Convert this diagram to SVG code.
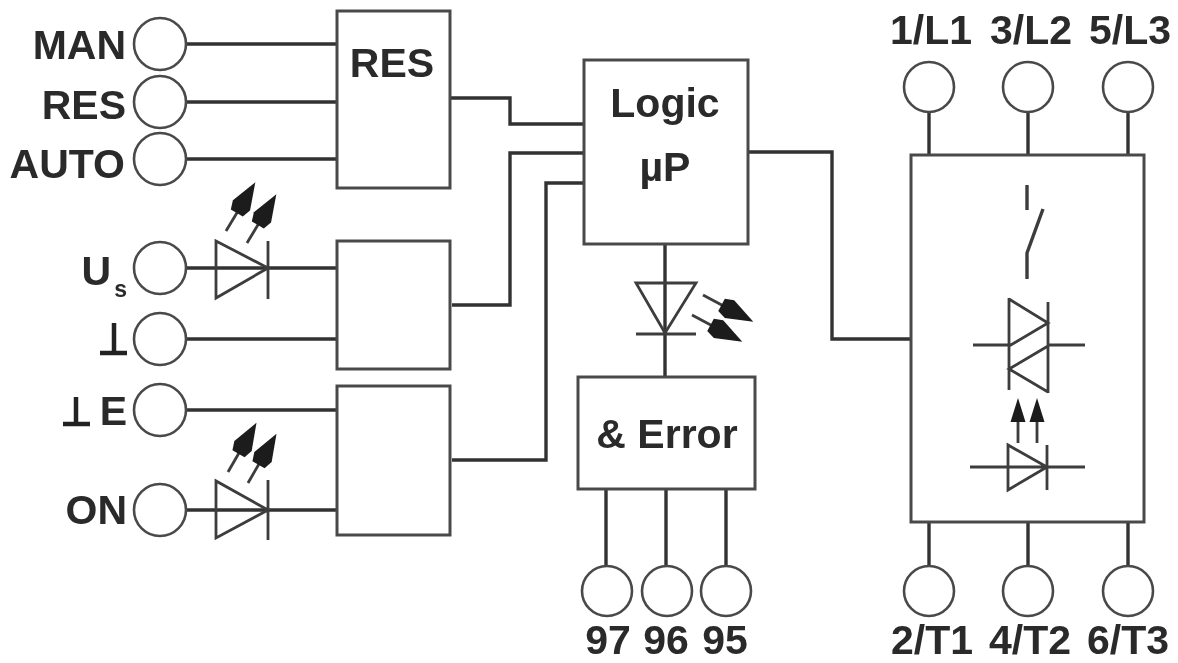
<svg xmlns="http://www.w3.org/2000/svg" width="1178" height="663" viewBox="0 0 1178 663">
<style>
text{font-family:"Liberation Sans",Arial,sans-serif;font-weight:700;font-size:41px;fill:#2a2a2a}
.e{text-anchor:end}.m{text-anchor:middle}
.b,.t{fill:#fff;stroke:#4a4a4a;stroke-width:3}
.t{stroke-width:2.600}
.w{fill:none;stroke:#333;stroke-width:3.400}
.g{fill:none;stroke:#222;stroke-width:4.500}
.s{fill:none;stroke:#3c3c3c;stroke-width:2.800}
.a{fill:#1c1c1c;stroke:none}
</style>
<defs>
<filter id="soft" x="0" y="0" width="100%" height="100%"><feGaussianBlur stdDeviation="0.5"/></filter>
<g id="up"><path class="s" d="M0 0L0 -26"/><path class="a" d="M0 -57L10 -30L7 -21L-7 -21L-10 -30Z"/></g>
<g id="up2"><path class="s" d="M0 0L0 -22"/><path class="a" d="M0 -45L7.500 -21L-7.500 -21Z"/></g>
</defs>
<rect width="1178" height="663" fill="#fff"/>
<g filter="url(#soft)">
<g id="connectors">
<path class="w" d="M186 44H337M186 102H337M186 159H337M186 268H337M186 339H337M186 410H337M186 510H337"/>
<path class="w" d="M450 98H510V124H584M452 305H510V153H584M452 460H546V183H584M749 152H832V339H911"/>
<path class="w" d="M665 245V377M606 489V566M666 489V566M726 489V566"/>
<path class="w" d="M929 112V155M1028 112V155M1128 112V155M929 522V566M1028 522V566M1128 522V566"/>
</g>
<g id="res"><rect class="b" x="337" y="11" width="113" height="177"/><text class="m" x="392" y="77">RES</text></g>
<g id="box-us"><rect class="b" x="337" y="241" width="113" height="128"/></g>
<g id="box-e"><rect class="b" x="337" y="386" width="113" height="149"/></g>
<g id="logic"><rect class="b" x="584" y="60" width="164" height="184"/><text class="m" x="665" y="117">Logic</text><text class="m" x="665" y="181">µP</text></g>
<g id="error"><rect class="b" x="578" y="377" width="177" height="112"/><text class="m" x="667" y="448">&amp; Error</text></g>
<g id="switch"><rect class="b" x="911" y="155" width="233" height="367"/>
<path class="s" d="M1027 185V210M1043 209L1027 253V279" style="stroke-width:3.400"/>
<path class="s" d="M973 345H1009M1048 345H1085M1009 298V390M1048 302V393M1009 299L1048 323L1009 346M1048 346L1009 369L1048 392"/>
<use href="#up2" x="1018" y="443"/><use href="#up2" x="1037" y="443"/>
<path class="s" d="M970 467H1085M1008 445V490L1047 467ZM1047 445V490"/></g>
<g id="led-logic"><path class="s" d="M636 283H696L665 333ZM636 334H696"/>
<use href="#up" transform="translate(703 295) rotate(118)"/><use href="#up" transform="translate(692 315) rotate(118)"/></g>
<g id="led-us"><path class="s" d="M216 241V298L268 268ZM268 241V299"/>
<use href="#up" transform="translate(226 231) rotate(31)"/><use href="#up" transform="translate(247 243) rotate(31)"/></g>
<g id="led-on"><path class="s" d="M216 481V538L268 510ZM268 480V540"/>
<use href="#up" transform="translate(228 472) rotate(30)"/><use href="#up" transform="translate(248 483) rotate(30)"/></g>
<g id="t-man"><circle class="t" cx="160" cy="44" r="26"/><text class="e" x="126" y="59">MAN</text></g>
<g id="t-res"><circle class="t" cx="160" cy="102" r="26"/><text class="e" x="126" y="119">RES</text></g>
<g id="t-auto"><circle class="t" cx="160" cy="159" r="26"/><text class="e" x="125" y="178">AUTO</text></g>
<g id="t-us"><circle class="t" cx="160" cy="268" r="26"/><text class="e" x="111" y="285">U</text><text class="e" x="127" y="297" style="font-size:23px">s</text></g>
<g id="t-gnd"><circle class="t" cx="160" cy="339" r="26"/><path class="g" d="M114 323V353M100 353H127"/></g>
<g id="t-pe"><circle class="t" cx="160" cy="410" r="26"/><path class="g" d="M76 397V424M63 424H90"/><text class="e" x="127" y="425">E</text></g>
<g id="t-on"><circle class="t" cx="160" cy="510" r="26"/><text class="e" x="127" y="524">ON</text></g>
<g id="t-97"><circle class="t" cx="607" cy="591" r="25"/><text class="m" x="608" y="654">97</text></g>
<g id="t-96"><circle class="t" cx="667" cy="591" r="25"/><text class="m" x="666" y="654">96</text></g>
<g id="t-95"><circle class="t" cx="726" cy="591" r="25"/><text class="m" x="725" y="654">95</text></g>
<g id="t-l1"><circle class="t" cx="929" cy="87" r="25"/><text class="m" x="931" y="44">1/L1</text></g>
<g id="t-l2"><circle class="t" cx="1028" cy="87" r="25"/><text class="m" x="1031" y="44">3/L2</text></g>
<g id="t-l3"><circle class="t" cx="1128" cy="87" r="25"/><text class="m" x="1130" y="44">5/L3</text></g>
<g id="t-t1"><circle class="t" cx="929" cy="591" r="25"/><text class="m" x="932" y="654">2/T1</text></g>
<g id="t-t2"><circle class="t" cx="1028" cy="591" r="25"/><text class="m" x="1030" y="654">4/T2</text></g>
<g id="t-t3"><circle class="t" cx="1128" cy="591" r="25"/><text class="m" x="1128" y="654">6/T3</text></g>
</g>
</svg>
